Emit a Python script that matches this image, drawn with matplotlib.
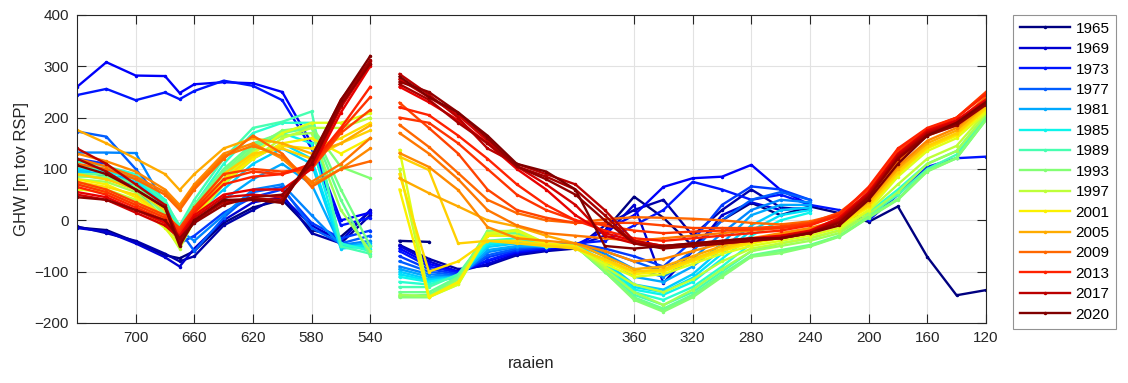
import numpy as np
import matplotlib.pyplot as plt

plt.rcParams['font.family'] = ['Liberation Sans', 'DejaVu Sans']

nan = np.nan

# raaien (transect numbers), two stretches with a gap in between
raai_noord = [740, 720, 700, 680, 670, 660, 640, 620, 600, 580, 560, 540]
raai_zuid = [520, 500, 480, 460, 440, 420, 400, 380, 360, 340, 320, 300,
             280, 260, 240, 220, 200, 180, 160, 140, 120]

jaren = [1965, 1967, 1969, 1971, 1973, 1975, 1977, 1979, 1981, 1983, 1984,
         1985, 1987, 1989, 1991, 1992, 1993, 1995, 1997, 1999, 2001, 2002,
         2003, 2005, 2007, 2008, 2009, 2011, 2012, 2013, 2015, 2016, 2017,
         2018, 2019, 2020]
legend_jaren = [1965, 1969, 1973, 1977, 1981, 1985, 1989, 1993, 1997, 2001,
                2005, 2009, 2013, 2017, 2020]

# GHW [m tov RSP] per year, northern stretch
ghw_noord = {
    1965: [-14, -19, -42, -68, -74, -60, -5, 25, 40, -19, -32, 17],
    1967: [-12, -25, -40, -65, -80, -70, -10, 20, 50, -25, -45, 10],
    1969: [-15, -22, -45, -72, -90, -55, 0, 35, 45, -10, -40, 20],
    1971: [260, 308, 282, 281, 248, 265, 269, 267, 250, 150, 0, 15],
    1973: [244, 256, 234, 249, 236, 252, 272, 262, 234, 140, -10, 5],
    1975: [120, 110, 60, 0, -45, -30, 15, 45, 60, -5, -35, -20],
    1977: [173, 163, 100, 30, -20, -60, 5, 55, 65, -15, -45, -30],
    1979: [132, 132, 131, 30, -20, -40, 10, 60, 70, 10, -48, -40],
    1981: [100, 85, 70, 20, -25, -5, 40, 80, 110, 70, -50, -45],
    1983: [95, 90, 75, 25, -30, 10, 60, 110, 140, 110, -55, -50],
    1984: [100, 95, 85, 30, -25, 15, 70, 120, 150, 120, -52, -48],
    1985: [110, 95, 80, 30, -20, 20, 80, 140, 170, 150, -50, -55],
    1987: [115, 105, 90, 40, -15, 30, 110, 170, 190, 190, -45, -60],
    1989: [105, 100, 85, 35, -10, 40, 120, 180, 192, 212, -51, -65],
    1991: [90, 90, 70, 20, -25, 30, 100, 150, 170, 180, 40, -70],
    1992: [88, 80, 65, 10, -35, 28, 95, 145, 172, 185, 60, -50],
    1993: [85, 85, 60, 15, -30, 25, 90, 140, 175, 182, 104, 82],
    1995: [80, 75, 55, 5, -40, 20, 80, 135, 165, 170, 20, -60],
    1997: [70, 60, 40, -10, -55, 0, 70, 120, 160, 180, 180, 200],
    1999: [60, 55, 30, -15, -50, 10, 80, 130, 170, 190, 190, 209],
    2001: [80, 70, 45, 0, -45, 5, 75, 120, 150, 160, 130, 160],
    2002: [75, 65, 50, 5, -40, 10, 80, 125, 145, 140, 160, 190],
    2003: [90, 80, 60, 20, -20, 20, 90, 130, 140, 120, 150, 175],
    2005: [176, 150, 120, 90, 59, 90, 140, 160, 150, 130, 150, 185],
    2007: [130, 115, 95, 60, 30, 70, 130, 150, 120, 70, 100, 140],
    2008: [120, 105, 85, 55, 25, 65, 125, 145, 125, 75, 110, 160],
    2009: [110, 100, 80, 50, 20, 60, 120, 165, 130, 65, 100, 115],
    2011: [75, 60, 35, 10, -15, 25, 90, 100, 95, 100, 170, 215],
    2012: [70, 55, 30, 5, -20, 20, 80, 95, 90, 105, 175, 240],
    2013: [65, 50, 25, 0, -25, 15, 70, 85, 90, 110, 180, 260],
    2015: [55, 45, 20, -5, -30, 10, 50, 60, 60, 100, 210, 300],
    2016: [50, 40, 15, -10, -35, 5, 45, 50, 45, 105, 220, 305],
    2017: [140, 110, 70, 30, -40, 0, 35, 40, 35, 120, 235, 310],
    2018: [120, 95, 60, 25, -45, -2, 38, 42, 40, 118, 230, 312],
    2019: [45, 40, 20, 0, -35, -5, 30, 45, 50, 110, 225, 305],
    2020: [107, 90, 60, 25, -50, 0, 40, 40, 34, 124, 234, 320],
}

# GHW [m tov RSP] per year, southern stretch
ghw_zuid = {
    1965: [-40, -42, nan, nan, nan, nan, nan, -20, 46, 5, -50, 0, 34, 10, 27, 14, -3, 27, -71, -146, -136],
    1967: [-48, -75, -95, -88, -68, -60, -55, -10, 20, 40, -30, 20, 60, 25, 20, nan, nan, nan, nan, nan, nan],
    1969: [-50, -80, -100, -85, -65, -58, -50, -30, 30, -122, -60, 10, 35, 20, 25, nan, nan, nan, nan, nan, nan],
    1971: [-55, -85, -100, -80, -62, -55, -48, -20, 10, 65, 82, 85, 108, 59, 30, nan, nan, nan, nan, nan, nan],
    1973: [-60, -90, -102, -78, -60, -55, -45, -40, -10, 20, 75, 60, 40, 50, 30, 20, 0, 50, 104, 121, 124],
    1975: [-70, -95, -105, -72, -58, -52, -45, -55, -70, -90, -40, 30, 66, 60, 40, nan, nan, nan, nan, nan, nan],
    1977: [-80, -100, -108, -68, -55, -50, -45, -60, -80, -100, -60, 0, 40, 55, 40, nan, nan, nan, nan, nan, nan],
    1979: [-90, -105, -110, -62, -52, -50, -45, -65, -95, -110, -75, -25, 20, 40, 35, nan, nan, nan, nan, nan, nan],
    1981: [-95, -110, -112, -58, -50, -50, -46, -70, -110, -120, -90, -45, 10, 30, 30, nan, nan, nan, nan, nan, nan],
    1983: [-100, -115, -110, -52, -45, -52, -48, -80, -125, -135, -105, -55, -10, 20, 25, nan, nan, nan, nan, nan, nan],
    1984: [-105, -118, -112, -48, -42, -50, -47, -82, -130, -140, -112, -65, -20, 10, 20, nan, nan, nan, nan, nan, nan],
    1985: [-110, -120, -110, -45, -40, -50, -48, -85, -135, -145, -120, -75, -30, 0, 15, nan, nan, nan, nan, nan, nan],
    1987: [-120, -125, -108, -40, -35, -50, -50, -90, -140, -155, -130, -90, -45, -30, -20, -10, 15, 60, 110, 135, 205],
    1989: [-130, -130, -105, -30, -30, -52, -50, -95, -145, -165, -140, -100, -60, -45, -35, -20, 10, 50, 100, 128, 200],
    1991: [-140, -140, -110, -25, -25, -52, -50, -100, -150, -172, -145, -105, -68, -58, -48, -30, 7, 42, 97, 122, 197],
    1992: [-148, -145, -112, -22, -20, -51, -50, -100, -152, -175, -148, -108, -70, -60, -50, -31, 6, 41, 96, 121, 196],
    1993: [-150, -150, -115, -20, -22, -50, -50, -100, -155, -178, -150, -110, -71, -64, -51, -32, 5, 40, 95, 121, 195],
    1995: [-145, -148, -120, -25, -20, -50, -52, -95, -140, -165, -135, -95, -60, -50, -40, -25, 12, 55, 110, 135, 205],
    1997: [100, -150, -125, -30, -18, -45, -52, -90, -125, -140, -115, -80, -55, -45, -35, -20, 18, 70, 120, 145, 210],
    1999: [137, -149, -125, -25, -20, -45, -55, -85, -110, -105, -85, -65, -50, -40, -30, -15, 20, 85, 135, 160, 210],
    2001: [60, -150, -120, -30, -30, -45, -50, -80, -105, -100, -80, -60, -45, -35, -25, -10, 25, 90, 140, 165, 215],
    2002: [90, -100, -80, -40, -40, -48, -52, -78, -100, -98, -78, -58, -42, -32, -22, -8, 28, 92, 142, 168, 218],
    2003: [124, 98, -45, -40, -45, -50, -55, -75, -100, -95, -75, -55, -40, -30, -20, -5, 30, 95, 145, 170, 220],
    2005: [82, 53, 27, 0, -12, -30, -45, -70, -95, -90, -70, -50, -38, -28, -18, -3, 35, 100, 150, 175, 225],
    2007: [131, 104, 59, -13, -35, -40, -45, -60, -80, -75, -60, -45, -35, -25, -15, 0, 40, 105, 155, 180, 230],
    2008: [170, 130, 80, 20, -10, -25, -30, -35, -40, -35, -30, -25, -20, -15, -8, 8, 48, 115, 165, 185, 235],
    2009: [186, 143, 92, 40, 14, 0, -5, 2, 6, 5, 3, 0, -5, -8, -2, 12, 50, 120, 170, 190, 240],
    2011: [229, 180, 130, 60, 20, 5, -5, -5, -5, -10, -15, -15, -15, -12, -5, 15, 60, 135, 175, 200, 250],
    2012: [200, 190, 150, 100, 50, 20, 0, -10, -20, -25, -22, -20, -18, -15, -8, 12, 62, 138, 178, 200, 248],
    2013: [220, 205, 165, 120, 70, 30, 0, -20, -35, -40, -35, -30, -25, -20, -10, 10, 65, 140, 180, 200, 245],
    2015: [260, 230, 195, 150, 100, 60, 10, -25, -40, -50, -45, -40, -35, -30, -20, 5, 55, 130, 175, 195, 235],
    2016: [275, 240, 205, 155, 105, 70, 30, -30, -45, -50, -48, -42, -38, -32, -22, 2, 52, 128, 172, 193, 232],
    2017: [285, 245, 200, 140, 110, 90, 70, 20, -40, -50, -50, -45, -40, -35, -25, 0, 50, 125, 170, 190, 230],
    2018: [265, 235, 190, 150, 105, 85, 60, 10, -45, -52, -48, -43, -38, -34, -24, -3, 47, 122, 168, 188, 228],
    2019: [270, 250, 210, 160, 105, 80, 50, 0, -45, -55, -50, -45, -40, -35, -25, -5, 45, 120, 165, 185, 225],
    2020: [280, 240, 210, 165, 110, 95, 60, -50, -55, -50, -45, -40, -35, -35, -25, -10, 40, 110, 165, 190, 230],
}

xticks = [700, 660, 620, 580, 540, 360, 320, 280, 240, 200, 160, 120]
yticks = [-200, -100, 0, 100, 200, 300, 400]

fig = plt.figure(figsize=(11.28, 3.83), dpi=100)
ax = fig.add_axes([0.0683, 0.1567, 0.8057, 0.8042])

kleur_as = (0.15, 0.15, 0.15)
for jaar in jaren:
    kleur = plt.cm.jet((jaar - 1965) / (2020 - 1965))
    label = str(jaar) if jaar in legend_jaren else None
    ax.plot(raai_noord, ghw_noord[jaar], '.-', color=kleur, lw=1.7, ms=3, label=label)
    ax.plot(raai_zuid, ghw_zuid[jaar], '.-', color=kleur, lw=1.7, ms=3)

ax.set_xlim(740, 120)
ax.set_ylim(-200, 400)
ax.set_xticks(xticks)
ax.set_yticks(yticks)
ax.grid(True, color='#e2e2e2', lw=0.8)
ax.set_axisbelow(True)
ax.tick_params(direction='in', length=6.5, width=0.8, top=True, right=True,
               colors=kleur_as, labelsize=11, pad=6)
for sp in ax.spines.values():
    sp.set_color(kleur_as)
    sp.set_linewidth(0.8)

ax.set_xlabel('raaien', fontsize=12, color=kleur_as, labelpad=8)
ax.set_ylabel('GHW [m tov RSP]', fontsize=12, color=kleur_as, labelpad=4)

leg = ax.legend(loc='upper left', bbox_to_anchor=(0.898, 0.961),
                bbox_transform=fig.transFigure, borderaxespad=0, fontsize=11,
                handlelength=3.3, handletextpad=0.35, labelspacing=0.42,
                borderpad=0.45, fancybox=False, edgecolor='#777777')
leg.get_frame().set_linewidth(0.8)

fig.savefig('out.png', dpi=100)
